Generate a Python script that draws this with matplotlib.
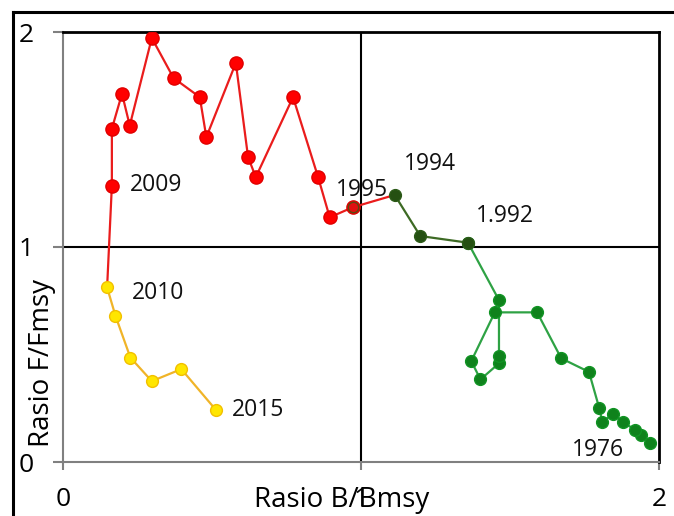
import numpy as np
import matplotlib
matplotlib.use("Agg")
import matplotlib.pyplot as plt
from matplotlib.lines import Line2D

plt.rcParams['font.family'] = ['Open Sans', 'DejaVu Sans']

# === Data (Kobe-style plot, 1976-2015) ===
years = list(range(1976, 2016))
b_ratio = [1.969, 1.941, 1.918, 1.879, 1.846, 1.810, 1.799, 1.765, 1.672, 1.591,
           1.449, 1.370, 1.401, 1.463, 1.463, 1.463, 1.359, 1.199, 1.113, 0.973,
           0.895, 0.856, 0.772, 0.647, 0.621, 0.580, 0.481, 0.459, 0.371, 0.298,
           0.224, 0.198, 0.164, 0.164, 0.148, 0.176, 0.226, 0.298, 0.397, 0.512]
f_ratio = [0.088, 0.124, 0.151, 0.186, 0.225, 0.186, 0.253, 0.419, 0.482, 0.696,
           0.696, 0.469, 0.384, 0.459, 0.492, 0.753, 1.020, 1.051, 1.242, 1.185,
           1.138, 1.325, 1.697, 1.325, 1.418, 1.856, 1.511, 1.697, 1.786, 1.972,
           1.565, 1.713, 1.550, 1.286, 0.812, 0.680, 0.486, 0.376, 0.432, 0.244]

x_ticks = [0, 1, 2]
y_ticks = [0, 1, 2]

# year labels and where they sit (data coords)
label_texts = ["2009", "1995", "1994", "1.992", "1976", "2010", "2015"]
label_pos = [(0.311, 1.289), (1.002, 1.265), (1.230, 1.387), (1.482, 1.144),
             (1.794, 0.054), (0.318, 0.786), (0.653, 0.241)]

b = np.array(b_ratio)
f = np.array(f_ratio)
yr = np.array(years)


def seg(y0, y1):
    m = (yr >= y0) & (yr <= y1)
    return b[m], f[m]


fig = plt.figure(figsize=(6.74, 5.16), dpi=100)
ax = fig.add_axes([63 / 674, 1 - 462 / 516, 596 / 674, 430 / 516])

# === Series ===
# red line 1994 -> 2010 (markers only 1995-2009)
bx, fy = seg(1994, 2010)
ax.plot(bx, fy, color='#ea1c1c', lw=1.6, zorder=3)
bx, fy = seg(1995, 2009)
ax.plot(bx, fy, ls='none', marker='o', ms=9.5, mfc='#ff0000', mec='#e00000', zorder=4)

# bright green 1976 -> 1992
bx, fy = seg(1976, 1992)
ax.plot(bx, fy, color='#2ea244', lw=1.6, marker='o', ms=8.5,
        mfc='#0f821c', mec='#119424', zorder=5)

# dark green 1992 -> 1994
bx, fy = seg(1992, 1994)
ax.plot(bx, fy, color='#3d6a24', lw=1.6, marker='o', ms=8.5,
        mfc='#255012', mec='#2c5a18', zorder=6)
# 1995 marker with dark edge
bx, fy = seg(1995, 1995)
ax.plot(bx, fy, ls='none', marker='o', ms=7.5, mfc='#e01010', mec='#5a4a10', zorder=6)

# yellow 2010 -> 2015
bx, fy = seg(2010, 2015)
ax.plot(bx, fy, color='#f0b428', lw=1.6, marker='o', ms=8.5,
        mfc='#ffe600', mec='#f2c000', zorder=5)

for t, (px, py) in zip(label_texts, label_pos):
    ax.text(px, py, t, fontsize=16.5, ha='center', va='center', color='#111111', zorder=7)

# === Reference lines at 1 ===
ax.axhline(1, color='black', lw=1.5, zorder=2)
ax.axvline(1, color='black', lw=1.5, zorder=2)

ax.set_xlim(0, 2)
ax.set_ylim(0, 2)
ax.set_xticks(x_ticks)
ax.set_yticks(y_ticks)
ax.set_xticklabels([str(v) for v in x_ticks])
ax.set_yticklabels([str(v) for v in y_ticks])
ax.tick_params(axis='both', labelsize=19, colors='#808080', labelcolor='black',
               width=1.5)
ax.tick_params(axis='x', length=6, pad=12)
ax.tick_params(axis='y', length=7, pad=14)

for s in ['top', 'right']:
    ax.spines[s].set_color('black')
    ax.spines[s].set_linewidth(2)
for s in ['left', 'bottom']:
    ax.spines[s].set_color('#808080')
    ax.spines[s].set_linewidth(1.5)

ax.set_xlabel("Rasio B/Bmsy", fontsize=20, va='center', ha='center')
ax.xaxis.set_label_coords(0.468, -0.088)
ax.set_ylabel("Rasio F/Fmsy", fontsize=20, va='center', ha='center')
ax.yaxis.set_label_coords(-0.036, 0.23)

# outer frame (cut off at right and bottom in the reference)
fx = 13 / 674
fy_top = 1 - 12 / 516
fig.add_artist(Line2D([fx, fx], [0, fy_top], color='black', lw=2.2, transform=fig.transFigure))
fig.add_artist(Line2D([fx, 1], [fy_top, fy_top], color='black', lw=2.2, transform=fig.transFigure))

fig.savefig("out.png", dpi=100)
